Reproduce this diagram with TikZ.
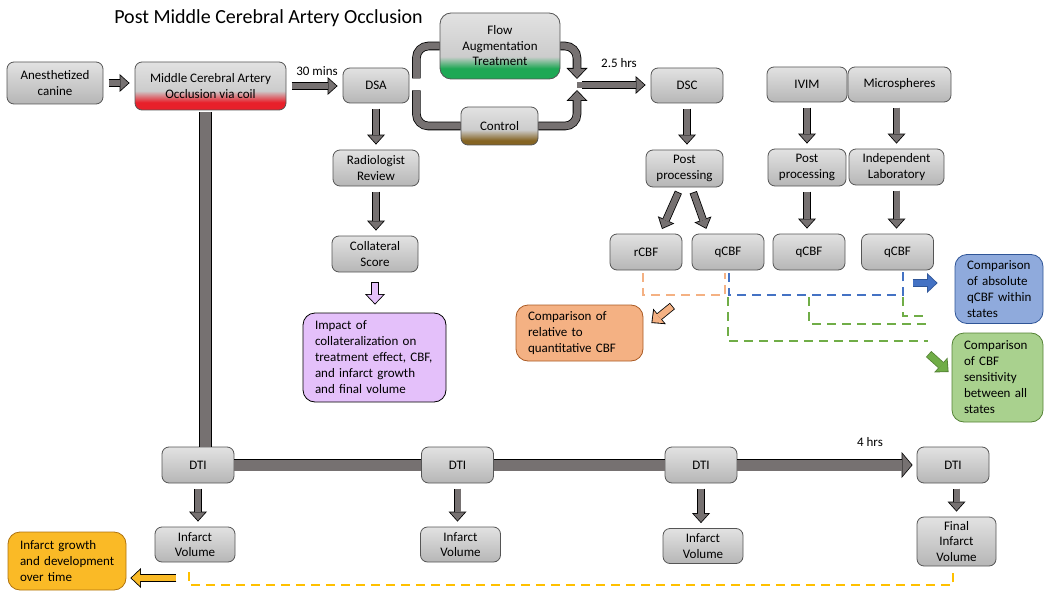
\documentclass[tikz,border=0pt]{standalone}
\usepackage{fontspec}
\setmainfont{Carlito}
\usetikzlibrary{arrows.meta,positioning}

\definecolor{boxtop}{RGB}{226,226,226}
\definecolor{boxmid}{RGB}{204,204,204}
\definecolor{boxbot}{RGB}{182,182,182}
\definecolor{boxline}{RGB}{85,85,85}
\definecolor{arrgray}{RGB}{118,113,113}
\definecolor{occred}{RGB}{232,32,42}
\definecolor{flowgreen}{RGB}{30,168,85}
\definecolor{ctrlbrown}{RGB}{133,100,35}
\definecolor{purpfill}{RGB}{228,192,250}
\definecolor{orgfill}{RGB}{244,177,131}
\definecolor{orgline}{RGB}{170,90,35}
\definecolor{bluefill}{RGB}{143,170,220}
\definecolor{blueline}{RGB}{47,85,151}
\definecolor{arrblue}{RGB}{68,114,196}
\definecolor{grnfill}{RGB}{169,209,142}
\definecolor{grnline}{RGB}{84,130,53}
\definecolor{arrgreen}{RGB}{112,173,71}
\definecolor{ylwfill}{RGB}{250,186,38}
\definecolor{ylwline}{RGB}{175,115,15}
\definecolor{ylwdash}{RGB}{255,192,0}

\pgfdeclareverticalshading{mcaoshade}{100bp}{color(0bp)=(occred); color(33bp)=(occred); color(45bp)=(boxmid); color(75bp)=(boxtop); color(100bp)=(boxtop)}
\pgfdeclareverticalshading{flowshade}{100bp}{color(0bp)=(flowgreen); color(33bp)=(flowgreen); color(42bp)=(boxmid); color(75bp)=(boxtop); color(100bp)=(boxtop)}
\pgfdeclareverticalshading{ctrlshade}{100bp}{color(0bp)=(ctrlbrown); color(31bp)=(ctrlbrown); color(45bp)=(boxmid); color(75bp)=(boxtop); color(100bp)=(boxtop)}

\newcommand\notefont{\fontsize{13}{16}\selectfont\hyphenpenalty=10000 }

\tikzset{
  box/.style={draw=boxline, line width=0.8pt, rounded corners=7pt, top color=boxtop, bottom color=boxbot, align=center, inner sep=2pt},
  wh/.style 2 args={minimum width=#1pt, minimum height=#2pt},
  note/.style 2 args={fill=#1, draw=#2, line width=0.8pt, rounded corners=12pt, align=left, font=\notefont, inner xsep=12pt, inner ysep=0pt},
  blk/.style={line width=6pt, draw=arrgray, -{Triangle[width=14.4pt,length=8pt,line width=0pt]}, shorten <=6pt, shorten >=6.2pt,
    preaction={draw=black, line width=7.6pt, -{Triangle[width=18pt,length=10pt,line width=0pt]}, shorten <=5.2pt, shorten >=5pt}},
  colblk/.style 2 args={line width=6.4pt, draw=#1, -{Triangle[width=16pt,length=8.5pt,line width=0pt]}, shorten <=0.8pt, shorten >=1.2pt,
    preaction={draw=#2, line width=8pt, -{Triangle[width=20pt,length=10.5pt,line width=0pt]}, shorten <=0pt, shorten >=0pt}},
  pipe/.style={line width=11pt, draw=arrgray, preaction={draw=black, line width=12.6pt}},
  bigblk/.style={line width=11pt, draw=arrgray, -{Triangle[width=21.6pt,length=9.15pt,line width=0pt]}, shorten >=5pt,
    preaction={draw=black, line width=12.6pt, -{Triangle[width=26pt,length=11pt,line width=0pt]}, shorten >=4pt}},
  thinpipe/.style={rounded corners=12pt, line width=7pt, draw=arrgray, preaction={draw=black, line width=8.6pt}},
  mergeblk/.style={rounded corners=12pt, line width=7pt, draw=arrgray, -{Triangle[width=17.3pt,length=9pt,line width=0pt]}, shorten >=#1pt+1.2pt,
    preaction={draw=black, line width=8.6pt, -{Triangle[width=21pt,length=11pt,line width=0pt]}, shorten >=#1pt}},
  dsh/.style={dash pattern=on 9pt off 6pt, line width=2pt},
}

\begin{document}
\begin{tikzpicture}[x=1pt,y=-1pt,font=\fontsize{13}{15.5}\selectfont]
\useasboundingbox (0,0) rectangle (1044,591);
\node[font=\fontsize{20}{24}\selectfont] (title) at (268.5,18.5) {Post Middle Cerebral Artery Occlusion};

% acquisition row
\node[box,wh={96}{42}] (anes) at (55,83) {Anesthetized\\canine};
\node[box,shading=mcaoshade,wh={151}{48}] (mcao) at (210.5,86) {Middle Cerebral Artery\\Occlusion via coil};
\node[box,wh={66}{35}] (dsa) at (376,85.5) {DSA};
\node[box,shading=flowshade,rounded corners=11pt,wh={120}{66}] (flow) at (500,46) {Flow\\Augmentation\\Treatment};
\node[box,shading=ctrlshade,wh={77}{38}] (ctrl) at (499.5,126) {Control};
\node[box,wh={72}{35}] (dsc) at (687,85.5) {DSC};
\node[box,wh={80}{35}] (ivim) at (807,84.5) {IVIM};
\node[box,wh={103}{35}] (micro) at (899.5,84.5) {Microspheres};
\node (t30) at (317,71) {30 mins};
\node (t25) at (619,63) {2.5 hrs};
\coordinate (merge) at (577,85);

\node[box,wh={86}{36}] (rad) at (376,168) {Radiologist\\Review};
\node[box,wh={86}{36}] (coll) at (375,254) {Collateral\\Score};
\node[box,wh={77}{37}] (pp1) at (684.5,168.5) {Post\\processing};
\node[box,wh={78}{37}] (pp2) at (807,167.5) {Post\\processing};
\node[box,wh={95}{36}] (lab) at (896.5,167) {Independent\\Laboratory};
\node[box,wh={72}{36}] (rcbf) at (646,252) {rCBF};
\foreach \n/\x in {a/728,b/809,c/897.5}
  \node[box,wh={72}{36}] (q\n) at (\x,252) {qCBF};

% outcomes
\node[note={purpfill}{black},wh={143}{89},text width=119pt] (impact) at (374.5,357.5) {Impact~of\\collateralization~on\\treatment~effect,~CBF,\\and~infarct~growth\\and~final~volume};
\node[note={orgfill}{orgline},wh={127}{56},text width=103pt] (cmprel) at (579.5,333) {Comparison~of\\relative~to\\quantitative~CBF};
\node[note={bluefill}{blueline},wh={88}{69},text width=64pt] (cmpabs) at (999,289) {Comparison\\of~absolute\\qCBF~within\\states};
\node[note={grnfill}{grnline},wh={91}{89},text width=67pt] (cmpsens) at (997.5,377.5) {Comparison\\of~CBF\\sensitivity\\between~all\\states};
\node[note={ylwfill}{ylwline},wh={118}{58},text width=94pt] (growth) at (67,561) {Infarct~growth\\and~development\\over~time};

% DTI timeline
\foreach \n/\x in {1/198,2/457.5,3/701,4/953}
  \node[box,wh={72}{36}] (dti\n) at (\x,465) {DTI};
\foreach \n/\x/\y in {1/195/544.5,2/460.5/544.5,3/703/546}
  \node[box,wh={80}{35}] (iv\n) at (\x,\y) {Infarct\\Volume};
\node[box,wh={79}{49}] (fiv) at (956.5,541.5) {Final\\Infarct\\Volume};
\node (t4) at (870,442) {4 hrs};

% connectors
\draw[blk] (anes.east) -- (anes.east -| mcao.west);
\draw[blk] (mcao.east) -- (mcao.east -| dsa.west);
\draw[thinpipe] ([xshift=7pt,yshift=7pt]dsa.east) |- (flow.west);
\draw[thinpipe] ([xshift=7pt,yshift=-5pt]dsa.east) |- (ctrl.west);
\draw[mergeblk=6] (flow.east) -| (merge);
\draw[mergeblk=5] (ctrl.east) -| (merge);
\draw[blk,shorten <=0pt,preaction={shorten <=0pt}] (merge) -- (merge -| dsc.west);
\draw[blk] (dsa) -- (rad);
\draw[blk] (rad.south) -- (rad.south |- coll.north);
\draw[colblk={purpfill}{black}] ([yshift=-10pt]coll.south) -- ([yshift=8pt]coll.south |- impact.north);
\draw[blk] (dsc.south) -- (dsc.south |- pp1.north);
\draw[blk] (ivim.south) -- (ivim.south |- pp2.north);
\draw[blk] (lab.north |- micro.south) -- (lab.north);
\draw[blk] ([xshift=-4pt]pp1.south) -- ([xshift=14pt]rcbf.north);
\draw[blk] ([xshift=7pt]pp1.south) -- ([xshift=-20pt]qa.north);
\draw[blk] (pp2.south) -- (pp2.south |- qb.north);
\draw[blk] (lab.south) -- (lab.south |- qc.north);

\draw[dsh,orgfill,shorten <=3pt,shorten >=3pt] ([xshift=-3pt]rcbf.south) -- ++(0,25) -| ([xshift=-3pt]qa.south);
\draw[dsh,arrblue,shorten <=3pt,shorten >=2pt] ([xshift=1pt]qa.south) -- ++(0,25) -| ([xshift=5.5pt]qc.south);
\coordinate (ga) at (928,341);
\coordinate (gb) at (928,324);
\coordinate (gc) at (928,316);
\draw[dsh,arrgreen] ([yshift=-27pt]qa.south) |- (ga);
\draw[dsh,arrgreen] ([yshift=-27pt]qb.south) |- (gb);
\draw[dsh,arrgreen] ([xshift=5.5pt,yshift=-27pt]qc.south) |- (gc);
\draw[colblk={orgfill}{black}] ([xshift=29pt,yshift=27pt]cmprel.east) -- ([xshift=8pt,yshift=10pt]cmprel.east);
\draw[colblk={arrblue}{blueline}] ([xshift=-42pt,yshift=6pt]cmpabs.west) -- ([xshift=-17pt,yshift=6pt]cmpabs.west);
\draw[colblk={arrgreen}{grnline}] ([xshift=-23pt,yshift=23.5pt]cmpsens.west) -- ([xshift=-3pt,yshift=5.5pt]cmpsens.west);

\draw[pipe,shorten <=2pt] ([xshift=-5pt]mcao.south) -- ([xshift=7.5pt]dti1.north);
\draw[pipe] (dti1) -- (dti2);
\draw[pipe] (dti2) -- (dti3);
\draw[bigblk] (dti3) -- (dti4);
\foreach \n in {1,2,3}
  \draw[blk] (dti\n.south) -- (dti\n.south |- iv\n.north);
\draw[blk] (fiv.north |- dti4.south) -- (fiv.north);
\draw[dsh,ylwdash,shorten <=10pt,shorten >=4pt] ([xshift=-6pt]iv1.south) -- ++(0,23) -| ([xshift=-3.5pt]fiv.south);
\draw[colblk={ylwfill}{black}] ([xshift=50pt,yshift=-17pt]growth.east) -- ([xshift=4pt,yshift=-17pt]growth.east);
\end{tikzpicture}
\end{document}
